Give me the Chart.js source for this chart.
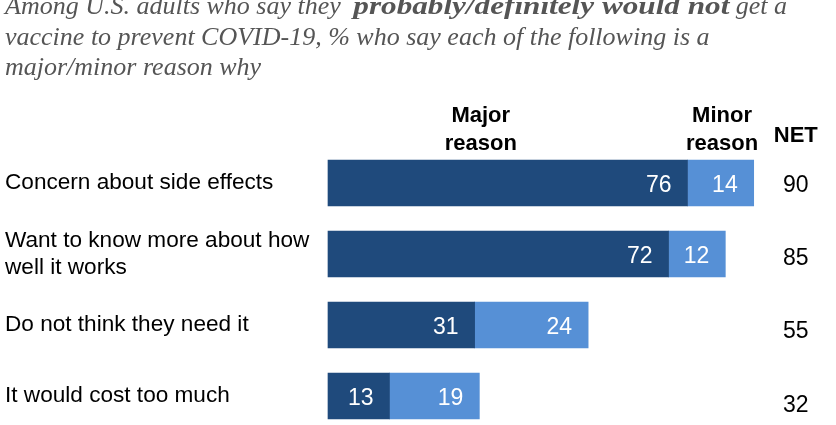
<!DOCTYPE html>
<html>
<head>
<meta charset="utf-8">
<script src="https://cdn.jsdelivr.net/npm/chart.js@4/dist/chart.umd.min.js"></script>
<style>
  html, body { margin: 0; padding: 0; background: #fff; }
  #wrap { width: 836px; height: 425px; position: relative; }
</style>
</head>
<body>
<div id="wrap"><canvas id="c" width="836" height="425"></canvas></div>
<script>
const categories = [
  ["Concern about side effects"],
  ["Want to know more about how", "well it works"],
  ["Do not think they need it"],
  ["It would cost too much"]
];
const majorReason = [76, 72, 31, 13];
const minorReason = [14, 12, 24, 19];
const netValues = [90, 85, 55, 32];
const seriesHeaders = [["Major", "reason"], ["Minor", "reason"]];
const netHeader = "NET";
const titleLines = [
  [["Among U.S. adults who say they ", false], ["probably/definitely would not", true], [" get a", false]],
  [["vaccine to prevent COVID-19, % who say each of the following is a", false]],
  [["major/minor reason why", false]]
];

const DARK = "#1f4a7c";
const LIGHT = "#5690d6";
const SANS = "'Liberation Sans', Arial, sans-serif";
const SERIF = "'Liberation Serif', 'Times New Roman', serif";

const overlay = {
  id: 'overlay',
  afterDatasetsDraw(chart) {
    const ctx = chart.ctx;
    const xs = chart.scales.x;
    const ys = chart.scales.y;
    ctx.save();
    // values inside bars
    ctx.font = "23px " + SANS;
    ctx.fillStyle = "#ffffff";
    ctx.textAlign = "right";
    ctx.textBaseline = "alphabetic";
    chart.data.datasets.forEach((ds, di) => {
      const meta = chart.getDatasetMeta(di);
      meta.data.forEach((bar, i) => {
        ctx.fillText(String(ds.data[i]), bar.x - 16, bar.y + 8.5);
      });
    });
    // NET column
    ctx.fillStyle = "#000000";
    ctx.textAlign = "center";
    const netX = xs.getPixelForValue(98.9);
    netValues.forEach((v, i) => {
      ctx.fillText(String(v), netX, ys.getPixelForValue(i) + 8.5 + i * 2.4);
    });
    // headers
    ctx.font = "bold 22px " + SANS;
    const hx = [xs.getPixelForValue(32.3), xs.getPixelForValue(83.3)];
    seriesHeaders.forEach((lines, k) => {
      lines.forEach((t, j) => ctx.fillText(t, hx[k], 121.5 + j * 28.5));
    });
    ctx.fillText(netHeader, netX, 141.5);
    // title
    ctx.textAlign = "left";
    ctx.fillStyle = "#555555";
    const baselines = [14, 44.8, 75];
    titleLines.forEach((segs, li) => {
      let x = 5;
      segs.forEach(([t, b]) => {
        if (b) {
          ctx.font = "italic bold 26px " + SERIF;
          const w = ctx.measureText(t).width;
          const target = 376;
          const sx = target / w;
          ctx.save();
          ctx.translate(x + 6, baselines[li]);
          ctx.scale(sx, 1);
          ctx.fillText(t, 0, 0);
          ctx.restore();
          x += 6 + target;
        } else {
          ctx.font = "italic 26px " + SERIF;
          ctx.fillText(t, x, baselines[li]);
          x += ctx.measureText(t).width;
        }
      });
    });
    ctx.restore();
  }
};

new Chart(document.getElementById('c'), {
  type: 'bar',
  data: {
    labels: categories,
    datasets: [
      { label: seriesHeaders[0].join(" "), data: majorReason, backgroundColor: DARK, barThickness: 46, clip: false, borderWidth: 0 },
      { label: seriesHeaders[1].join(" "), data: minorReason, backgroundColor: LIGHT, barThickness: 46, clip: false, borderWidth: 0 }
    ]
  },
  options: {
    indexAxis: 'y',
    responsive: false,
    animation: false,
    layout: { padding: { left: 5, right: 35, top: 183, bottom: 29 } },
    plugins: { legend: { display: false }, tooltip: { enabled: false }, title: { display: false } },
    scales: {
      x: {
        stacked: true, min: 0, max: 100, display: false,
        grid: { display: false }
      },
      y: {
        stacked: true, offset: false,
        grid: { display: false },
        border: { display: false },
        ticks: {
          crossAlign: 'far',
          color: '#000000',
          font: { family: SANS, size: 22.6, lineHeight: 1.2 }
        },
        afterFit(scale) { scale.width = 323; }
      }
    }
  },
  plugins: [overlay]
});
</script>
</body>
</html>
